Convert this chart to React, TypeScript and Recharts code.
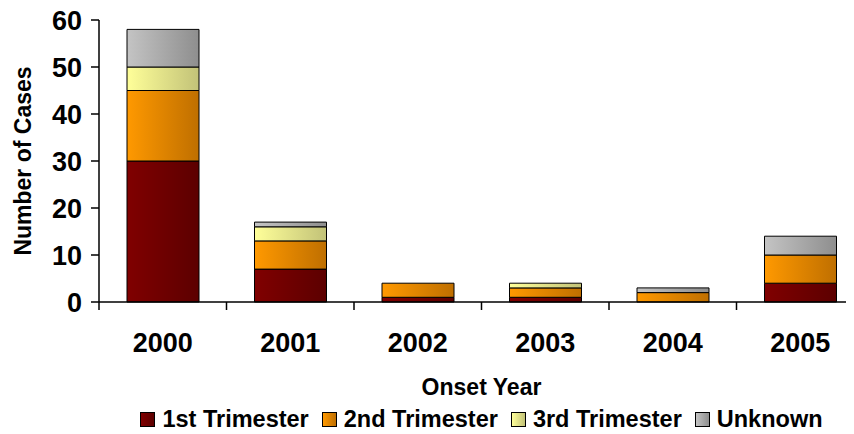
import React from 'react';
import { BarChart, Bar, XAxis, YAxis, Legend } from 'recharts';

const years = ['2000', '2001', '2002', '2003', '2004', '2005'];
const firstTri = [30, 7, 1, 1, 0, 4];
const secondTri = [15, 6, 3, 2, 2, 6];
const thirdTri = [5, 3, 0, 1, 0, 0];
const unknownTri = [8, 1, 0, 0, 1, 4];
const yTicks = [0, 10, 20, 30, 40, 50, 60];

const seriesNames = ['1st Trimester', '2nd Trimester', '3rd Trimester', 'Unknown'];
const seriesKeys = ['first', 'second', 'third', 'unknown'];
const lightColors = ['#800000', '#FF9900', '#FFFF99', '#C4C4C4'];
const darkColors = ['#5C0000', '#BF6F00', '#C2C278', '#8E8E8E'];

const data = years.map((y, i) => ({
  year: y,
  first: firstTri[i],
  second: secondTri[i],
  third: thirdTri[i],
  unknown: unknownTri[i],
}));

const FONT = '"Liberation Sans", Arial, sans-serif';

const XTick = (props: any) => {
  const { x, y, payload, index } = props;
  const half = payload && typeof payload.offset === 'number' && payload.offset > 0 ? payload.offset : 63.75;
  return (
    <g>
      <line x1={x - half} y1={y} x2={x - half} y2={y + 8} stroke="#000" strokeWidth={1.5} />
      {index === years.length - 1 && (
        <line x1={x + half} y1={y} x2={x + half} y2={y + 8} stroke="#000" strokeWidth={1.5} />
      )}
      <text x={x} y={y + 50} textAnchor="middle" fontSize={27} fontWeight="bold" fontFamily={FONT} fill="#000">
        {payload.value}
      </text>
    </g>
  );
};

const LegendContent = () => (
  <div
    style={{
      height: 30,
      width: 856,
      paddingLeft: 91,
      boxSizing: 'border-box',
      display: 'flex',
      justifyContent: 'center',
      alignItems: 'center',
      fontFamily: FONT,
      fontWeight: 700,
      fontSize: 23.5,
      lineHeight: '30px',
      color: '#000',
      whiteSpace: 'nowrap',
    }}
  >
    {seriesNames.map((n, i) => (
      <span key={n} style={{ display: 'flex', alignItems: 'center', marginLeft: i === 0 ? 0 : 13 }}>
        <span
          style={{
            display: 'inline-block',
            width: 13,
            height: 13,
            border: '1px solid #000',
            background: `linear-gradient(to right, ${lightColors[i]}, ${darkColors[i]})`,
            marginRight: 7,
          }}
        />
        {n}
      </span>
    ))}
  </div>
);

export default function App() {
  return (
    <div style={{ width: 854, height: 434, overflow: 'hidden', margin: '-8px 0 0 -8px', position: 'relative' }}>
      <BarChart width={868} height={434} data={data} margin={{ top: 20, right: 4, bottom: 0, left: 8 }}>
        <defs>
          {seriesKeys.map((k, i) => (
            <linearGradient key={k} id={`grad-${k}`} x1="0" y1="0" x2="1" y2="0">
              <stop offset="0%" stopColor={lightColors[i]} />
              <stop offset="100%" stopColor={darkColors[i]} />
            </linearGradient>
          ))}
        </defs>
        <XAxis
          dataKey="year"
          height={102}
          interval={0}
          tickSize={0}
          tickMargin={0}
          tickLine={false}
          axisLine={{ stroke: '#000', strokeWidth: 1.5 }}
          tick={<XTick />}
          label={{
            value: 'Onset Year',
            position: 'insideBottom',
            offset: 9,
            fontSize: 23,
            fontWeight: 'bold',
            fontFamily: FONT,
            fill: '#000',
          }}
        />
        <YAxis
          width={91}
          domain={[0, 60]}
          ticks={yTicks}
          interval={0}
          tickSize={8}
          tickMargin={9}
          axisLine={{ stroke: '#000', strokeWidth: 1.5 }}
          tickLine={{ stroke: '#000', strokeWidth: 1.5 }}
          tick={{ fontSize: 27, fontWeight: 'bold', fontFamily: FONT, fill: '#000' }}
          label={{
            value: 'Number of Cases',
            angle: -90,
            position: 'insideLeft',
            offset: 15,
            style: { textAnchor: 'middle' },
            fontSize: 23,
            fontWeight: 'bold',
            fontFamily: FONT,
            fill: '#000',
          }}
        />
        <Legend verticalAlign="bottom" content={<LegendContent />} />
        {seriesKeys.map((k, i) => (
          <Bar
            key={k}
            dataKey={k}
            name={seriesNames[i]}
            stackId="a"
            barSize={72}
            fill={`url(#grad-${k})`}
            stroke="#000"
            strokeWidth={1}
            isAnimationActive={false}
          />
        ))}
      </BarChart>
    </div>
  );
}
